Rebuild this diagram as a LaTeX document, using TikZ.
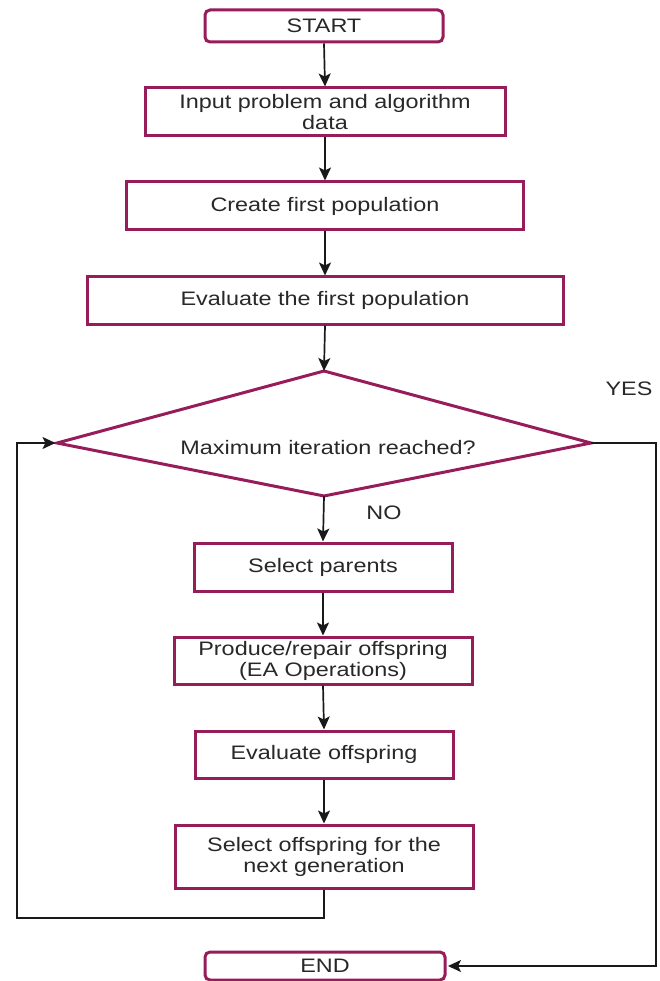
\documentclass[tikz,border=0pt]{standalone}
\usepackage{fontspec}
\setmainfont[FakeStretch=1.2]{Liberation Sans}
\usetikzlibrary{arrows.meta}
\definecolor{boxborder}{RGB}{150,28,90}
\definecolor{txt}{RGB}{40,40,40}
\begin{document}
\begin{tikzpicture}[x=1pt,y=-1pt,
  box/.style={draw=boxborder,line width=3pt,fill=white,inner sep=0pt,align=center,
    text=txt,font=\fontsize{19.5}{21}\selectfont},
  term/.style={box,rounded corners=5pt},
  conn/.style={line width=1.7pt,draw=black!90,-{Stealth[length=13pt,width=12pt,inset=3pt]}},
  lbl/.style={text=txt,font=\fontsize{19.5}{21}\selectfont,inner sep=0pt}]
\useasboundingbox (0,0) rectangle (660,981);
\node[term,minimum width=238pt,minimum height=32pt] (start) at (324,26) {START};
\node[box,minimum width=360pt,minimum height=48pt] (input) at (325,112) {Input problem and algorithm\\data};
\node[box,minimum width=397pt,minimum height=48pt] (create) at (325,206) {Create first population};
\node[box,minimum width=476pt,minimum height=47pt] (eval1) at (325,300.5) {Evaluate the first population};
% decision diamond
\coordinate (dT) at (324,371);
\coordinate (dR) at (591,443);
\coordinate (dB) at (324,496);
\coordinate (dL) at (57,443);
\draw[draw=boxborder,line width=3pt,line join=miter] (dT) -- (dR) -- (dB) -- (dL) -- cycle;
\node[lbl] (dec) at (328,448) {Maximum iteration reached?};
\node[box,minimum width=258pt,minimum height=48pt] (parents) at (323,567) {Select parents};
\node[box,minimum width=298pt,minimum height=47pt] (produce) at (323,660.5) {Produce/repair offspring\\(EA Operations)};
\node[box,minimum width=258pt,minimum height=47pt] (evaloff) at (324,754.5) {Evaluate offspring};
\node[box,minimum width=298pt,minimum height=63pt] (selnext) at (324,856.5) {Select offspring for the\\next generation};
\node[term,minimum width=240pt,minimum height=28pt] (end) at (325,966) {END};
\node[lbl] (yes) at (629,389) {YES};
\node[lbl] (no) at (384,513) {NO};
\coordinate (lb) at (17,918);
\coordinate (rb) at (656,966);
\draw[conn] (start.south) -- (input.north);
\draw[conn] (input.south) -- (create.north);
\draw[conn] (create.south) -- (eval1.north);
\draw[conn] (eval1.south) -- (dT);
\draw[conn] (dB) -- (parents.north);
\draw[conn] (parents.south) -- (produce.north);
\draw[conn] (produce.south) -- (evaloff.north);
\draw[conn] (evaloff.south) -- (selnext.north);
\draw[conn] (selnext.south) |- (lb) |- ([xshift=-1.5pt]dL);
\draw[conn] (dR) -| (rb) -- ([xshift=1.5pt]end.east);
\end{tikzpicture}
\end{document}
